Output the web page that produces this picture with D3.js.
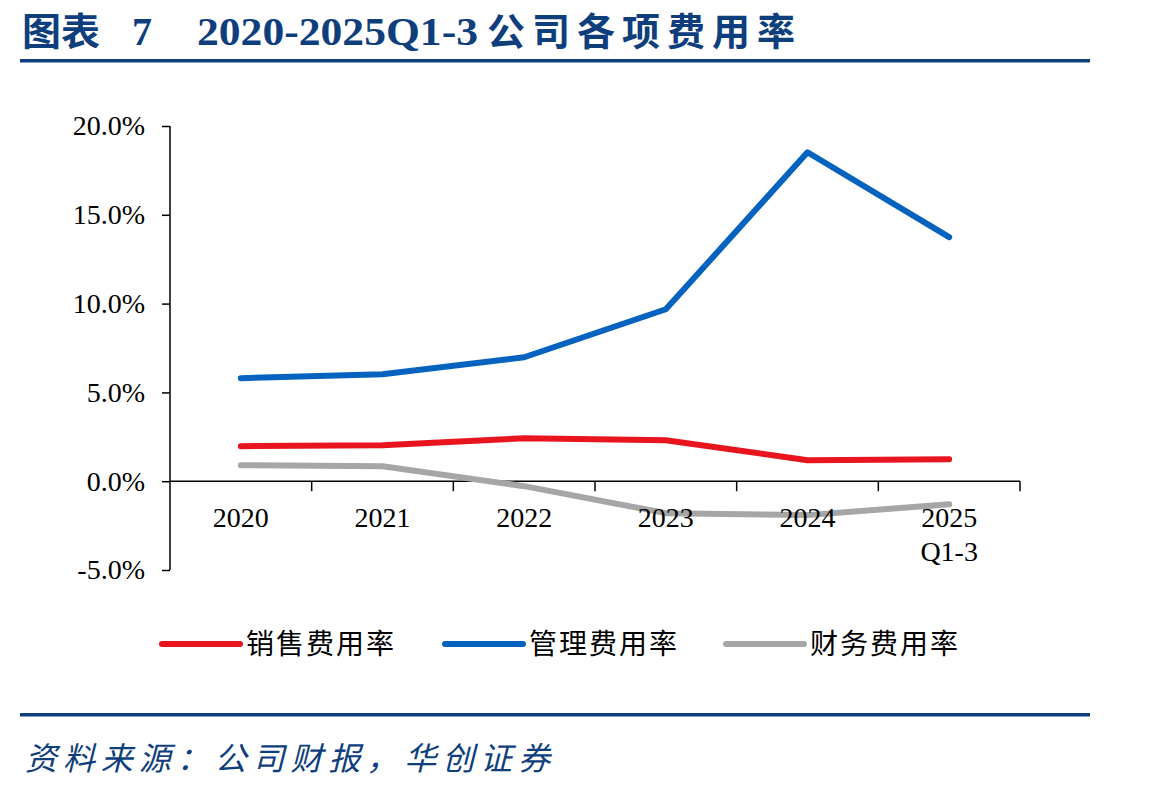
<!DOCTYPE html>
<html>
<head>
<meta charset="utf-8">
<script src="https://cdn.jsdelivr.net/npm/d3@7"></script>
<style>
  html, body { margin: 0; padding: 0; background: #fff; }
  svg { display: block; }
</style>
</head>
<body>
<div id="chart"></div>
<script>
// ─── DONNÉES ──────────────────────────────────────────────────────────────────
const categories = ["2020", "2021", "2022", "2023", "2024", "2025Q1-3"];
const xLabels    = [["2020"], ["2021"], ["2022"], ["2023"], ["2024"], ["2025", "Q1-3"]];
const salesRate   = [1.97, 2.03, 2.42, 2.31, 1.18, 1.24];
const adminRate   = [5.80, 6.02, 6.98, 9.68, 18.52, 13.74];
const financeRate = [0.90, 0.84, -0.28, -1.80, -1.91, -1.30];
const yTicks = [-5, 0, 5, 10, 15, 20];
const seriesNames = ["销售费用率", "管理费用率", "财务费用率"];

const colors = ["#E8141E", "#0563BF", "#A6A6A6"];
const navy = "#0F3E7C";
const serif = "'Liberation Serif', 'DejaVu Serif', serif";
const cjk = "'Noto Sans CJK SC', sans-serif";

const W = 1149, H = 792;

const svg = d3.select("#chart").append("svg")
    .attr("width", W).attr("height", H);

// ─── TITRE ET FILETS ─────────────────────────────────────────────────────────
const title = svg.append("g").attr("fill", navy).attr("font-weight", "bold");
title.append("text").attr("x", 22).attr("y", 45)
    .style("font-family", cjk).style("font-size", "38px")
    .attr("textLength", 78).attr("lengthAdjust", "spacingAndGlyphs").text("图表");
title.append("text").attr("x", 132).attr("y", 45)
    .style("font-family", serif).style("font-size", "40px").text("7");
title.append("text").attr("x", 197).attr("y", 45)
    .style("font-family", serif).style("font-size", "40px")
    .attr("textLength", 281).attr("lengthAdjust", "spacingAndGlyphs").text("2020-2025Q1-3");
title.append("text").attr("x", 487).attr("y", 45)
    .style("font-family", cjk).style("font-size", "38px")
    .attr("textLength", 308).attr("lengthAdjust", "spacing").text("公司各项费用率");

svg.append("rect").attr("x", 20).attr("y", 59).attr("width", 1070).attr("height", 3.5).attr("fill", navy);
svg.append("rect").attr("x", 20).attr("y", 713).attr("width", 1070).attr("height", 3.5).attr("fill", navy);

svg.append("text").attr("x", 25).attr("y", 770)
    .attr("fill", navy)
    .style("font-family", cjk).style("font-size", "32px").style("font-style", "italic")
    .attr("textLength", 525).attr("lengthAdjust", "spacing")
    .text("资料来源：公司财报，华创证券");

// ─── ÉCHELLES ────────────────────────────────────────────────────────────────
const x = d3.scaleBand().domain(categories).range([170, 1020]);
const y = d3.scaleLinear().domain([-5, 20]).range([570, 126]);

// Axe Y
svg.append("g")
    .attr("transform", "translate(170,0)")
    .call(d3.axisLeft(y).tickValues(yTicks).tickSize(8).tickPadding(17)
        .tickFormat(d => d.toFixed(1) + "%"))
    .call(g => g.select(".domain").attr("stroke", "#000").attr("stroke-width", 1.5)
        .attr("d", `M0,${y(20)}V${y(-5)}`))
    .call(g => g.selectAll(".tick line").attr("stroke", "#000").attr("stroke-width", 1.5))
    .call(g => g.selectAll("text")
        .attr("fill", "#000")
        .style("font-family", serif).style("font-size", "28px"));

// Axe X (sur la ligne zéro) : traits aux limites des bandes
const xAxis = svg.append("g");
xAxis.append("line")
    .attr("x1", x.range()[0]).attr("x2", x.range()[1])
    .attr("y1", y(0)).attr("y2", y(0))
    .attr("stroke", "#000").attr("stroke-width", 1.5);
xAxis.selectAll(".xtick")
    .data(categories.map(c => x(c)).concat([x.range()[1]]).slice(1))
    .enter().append("line")
    .attr("x1", d => d).attr("x2", d => d)
    .attr("y1", y(0)).attr("y2", y(0) + 10)
    .attr("stroke", "#000").attr("stroke-width", 1.5);

// ─── COURBES ─────────────────────────────────────────────────────────────────
const line = d3.line()
    .x((d, i) => x(categories[i]) + x.bandwidth() / 2)
    .y(d => y(d));

[salesRate, adminRate, financeRate].forEach((vals, i) => {
    svg.append("path")
        .datum(vals)
        .attr("d", line)
        .attr("fill", "none")
        .attr("stroke", colors[i])
        .attr("stroke-width", 6)
        .attr("stroke-linecap", "round")
        .attr("stroke-linejoin", "round");
});

// Libellés X (dessinés par-dessus les courbes)
const xl = svg.append("g");
categories.forEach((c, i) => {
    xLabels[i].forEach((t, j) => {
        xl.append("text")
            .attr("x", x(c) + x.bandwidth() / 2)
            .attr("y", 527 + j * 34)
            .attr("text-anchor", "middle")
            .style("font-family", serif).style("font-size", "28px")
            .text(t);
    });
});

// ─── LÉGENDE ─────────────────────────────────────────────────────────────────
const legendX = [160, 443, 724];
seriesNames.forEach((name, i) => {
    const g = svg.append("g").attr("transform", `translate(${legendX[i]},644)`);
    g.append("line")
        .attr("x1", 2).attr("x2", 80)
        .attr("stroke", colors[i]).attr("stroke-width", 6).attr("stroke-linecap", "round");
    g.append("text")
        .attr("x", 86).attr("y", 10)
        .style("font-family", cjk).style("font-size", "28px")
        .attr("textLength", 148).attr("lengthAdjust", "spacing")
        .text(name);
});
</script>
</body>
</html>
